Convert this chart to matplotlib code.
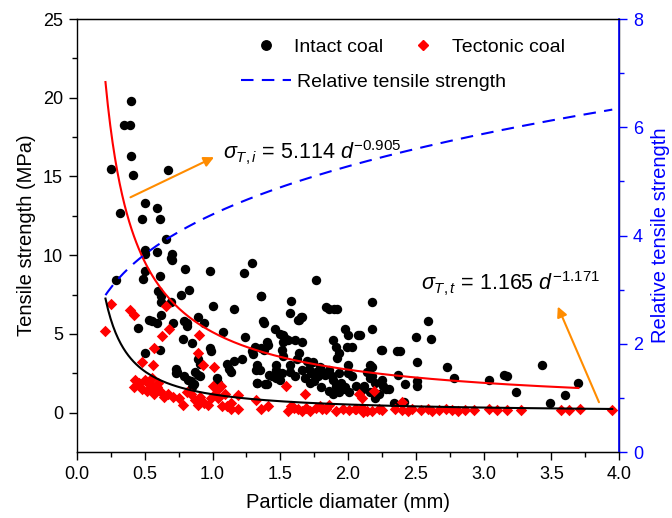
import numpy as np
import matplotlib
matplotlib.use("Agg")
import matplotlib.pyplot as plt
from matplotlib.lines import Line2D

plt.rcParams['font.family'] = ['Liberation Sans', 'DejaVu Sans']
plt.rcParams['mathtext.fontset'] = 'custom'
plt.rcParams['mathtext.rm'] = 'Liberation Sans'
plt.rcParams['mathtext.it'] = 'Liberation Sans:italic'

# Intact coal (particle diameter mm, tensile strength MPa)
intact_d = [0.40, 0.35, 0.39, 0.40, 0.25, 0.41, 0.67, 0.50, 0.59, 0.32, 0.48, 0.61, 0.66, 0.50, 0.70,
            0.29, 0.50, 0.59, 0.50, 0.49, 0.61, 0.60, 0.62, 0.62, 0.69, 0.70, 0.80, 0.83, 0.77, 0.69,
            0.71, 0.62, 0.98, 1.00, 1.23, 1.29, 1.16, 1.76, 0.45, 0.53, 0.55, 0.59, 0.61, 0.50, 0.79,
            0.81, 0.81, 0.78, 0.89, 0.94, 0.85, 0.98, 0.99, 1.08, 1.24, 1.36, 1.38, 0.73, 0.74, 0.73,
            0.79, 0.82, 0.84, 0.87, 0.89, 0.91, 0.91, 0.89, 0.86, 0.85, 1.03, 1.04, 1.11, 1.12, 1.14,
            1.16, 1.22, 1.30, 1.31, 1.33, 1.35, 1.33, 1.40, 1.41, 1.38, 1.44, 1.46, 1.50, 1.52, 1.54,
            1.52, 1.51, 1.52, 1.47, 1.47, 1.51, 1.50, 1.58, 1.57, 1.64, 1.66, 1.61, 1.66, 1.64, 1.62,
            1.57, 1.57, 1.61, 1.66, 1.71, 1.73, 1.76, 1.78, 1.81, 1.83, 1.86, 1.88, 1.89, 1.93, 1.95,
            1.91, 1.86, 1.89, 1.93, 1.98, 1.86, 1.90, 1.92, 1.89, 1.91, 1.92, 1.93, 1.98, 1.99, 2.03,
            2.00, 2.09, 2.18, 2.18, 2.24, 2.00, 2.00, 2.03, 2.14, 2.16, 2.18, 2.12, 2.20, 2.25, 2.38,
            2.50, 2.61, 2.59, 2.51, 2.73, 2.78, 3.04, 3.15, 3.17, 3.24, 3.43, 3.49, 3.60, 3.70, 2.37,
            2.42, 2.51, 2.51, 2.34, 2.41, 2.18, 2.16, 2.25, 2.26, 2.28, 2.30, 2.23, 2.20, 2.16, 2.11,
            2.06, 2.01, 1.98, 1.33, 1.39, 1.42, 1.47, 1.32, 1.29, 1.36, 1.40, 1.56, 1.65, 1.63, 1.36,
            1.37, 1.68, 1.72, 1.75, 1.79, 1.70, 1.74, 1.80, 2.07, 2.36, 1.84]
intact_s = [19.8, 18.3, 18.3, 16.3, 15.5, 15.1, 15.4, 13.3, 13.0, 12.7, 12.3, 12.3, 11.0, 10.3, 10.1,
            8.4, 10.1, 10.2, 9.0, 8.5, 8.7, 7.7, 7.4, 7.0, 9.8, 9.7, 9.1, 7.8, 7.5, 7.0,
            5.7, 6.2, 9.0, 6.8, 8.9, 9.5, 6.6, 8.4, 5.4, 5.9, 5.8, 5.7, 4.0, 3.8, 5.8,
            5.7, 5.5, 4.7, 6.1, 5.7, 4.4, 4.1, 3.9, 5.1, 4.8, 7.4, 5.7, 2.8, 2.6, 2.5,
            2.3, 2.1, 2.0, 2.6, 2.4, 2.3, 3.1, 3.4, 1.8, 1.6, 2.2, 1.9, 3.1, 2.8, 2.6,
            3.3, 3.4, 3.7, 4.2, 3.0, 2.7, 1.9, 1.8, 4.3, 4.0, 2.3, 5.3, 5.0, 4.9, 4.7,
            4.5, 4.0, 3.6, 3.0, 2.7, 2.5, 2.1, 7.1, 6.3, 5.9, 6.1, 4.6, 4.5, 3.8, 3.4,
            3.0, 2.6, 2.3, 2.7, 2.8, 2.5, 2.6, 2.3, 2.6, 2.4, 2.7, 2.3, 2.1, 2.5, 1.9,
            1.7, 1.4, 1.2, 1.3, 1.5, 6.6, 6.6, 6.6, 4.6, 4.2, 3.5, 3.8, 5.3, 4.2, 4.2,
            4.9, 4.9, 7.0, 5.3, 4.0, 3.0, 2.5, 2.3, 2.6, 3.0, 2.3, 1.7, 1.9, 4.0, 3.9,
            4.8, 4.7, 5.8, 3.2, 2.9, 2.2, 2.1, 2.4, 2.3, 1.3, 3.0, 0.6, 1.1, 1.9, 2.4,
            1.8, 2.0, 1.7, 0.6, 0.7, 2.9, 2.2, 2.1, 1.7, 1.5, 1.5, 1.2, 0.9, 1.3, 1.5,
            1.7, 1.3, 1.6, 1.9, 1.8, 2.4, 2.2, 2.7, 3.9, 4.1, 4.5, 4.6, 6.1, 5.9, 7.4,
            5.8, 2.2, 1.9, 2.0, 2.9, 3.3, 3.2, 1.6, 4.9, 3.9, 6.7]

# Tectonic coal
tectonic_d = [0.21, 0.25, 0.39, 0.42, 0.66, 0.68, 0.63, 0.57, 0.90, 0.89, 0.93, 0.48, 0.56, 1.01,
              0.43, 0.46, 0.50, 0.53, 0.55, 0.59, 0.61, 0.48, 0.52, 0.57, 0.42, 0.45, 0.55, 0.60,
              0.67, 0.71, 0.78, 0.84, 0.81, 0.89, 0.91, 0.94, 0.97, 1.00, 1.04, 1.06, 1.09, 1.04,
              1.07, 1.11, 1.14, 1.19, 1.19, 1.14, 0.64, 0.75, 0.87, 0.99, 1.02,
              1.32, 1.36, 1.41, 1.54, 1.56, 1.60, 1.63, 1.68, 1.72, 1.76, 1.81, 1.86, 1.91,
              1.96, 2.05, 2.10, 2.14, 2.19, 2.23, 2.08, 2.10, 1.58, 1.66, 1.69, 1.79, 1.84,
              2.01, 2.06, 2.11, 2.18, 2.25, 2.35, 2.40, 2.44, 2.47, 2.54, 2.59, 2.62, 2.67,
              2.72, 2.77, 2.81, 2.86, 2.93, 3.04, 3.10, 3.17, 3.28, 3.57, 3.63, 3.71, 3.95, 2.40]
tectonic_s = [5.2, 6.9, 6.5, 6.2, 6.75, 5.3, 4.85, 4.1, 4.9, 3.8, 3.0, 3.2, 3.0, 2.9,
              2.1, 1.9, 2.1, 1.8, 1.7, 1.6, 1.4, 1.5, 1.4, 1.2, 1.6, 1.8, 2.2, 1.9,
              1.2, 1.0, 0.5, 1.2, 1.3, 0.5, 1.0, 0.6, 0.5, 1.7, 1.5, 1.7, 1.2, 0.9,
              0.4, 0.4, 0.2, 0.2, 1.1, 0.6, 1.0, 0.9, 0.8, 0.9, 1.2,
              0.8, 0.2, 0.4, 1.7, 0.1, 0.3, 0.2, 1.2, 0.1, 0.3, 0.2, 0.5, 0.1,
              0.2, 0.2, 0.3, 0.1, 1.4, 0.2, 1.2, 0.9, 0.4, 0.1, 0.3, 0.4, 0.2,
              0.15, 0.25, 0.05, 0.1, 0.15, 0.2, 0.15, 0.1, 0.2, 0.15, 0.25, 0.1, 0.15,
              0.2, 0.15, 0.1, 0.15, 0.15, 0.2, 0.15, 0.15, 0.15, 0.15, 0.15, 0.2, 0.15, 0.7]

# fitted power laws shown on the chart: sigma = a * d^b
a_i, b_i = 5.114, -0.905
a_t, b_t = 1.165, -1.171

d_i = np.linspace(0.21, 3.7, 200)
d_t = np.linspace(0.21, 3.95, 200)
fit_i = a_i * d_i ** b_i
fit_t = a_t * d_t ** b_t
ratio = (a_i * d_t ** b_i) / (a_t * d_t ** b_t)

fig = plt.figure(figsize=(6.72, 5.18), dpi=100)
ax = fig.add_axes([0.1146, 0.1274, 0.8066, 0.8359])
ax2 = ax.twinx()

ax.scatter(intact_d, intact_s, s=46, c='black', marker='o', linewidths=0, zorder=2)
ax.scatter(tectonic_d, tectonic_s, s=34, c='#ff0000', marker='D', linewidths=0, zorder=2)
ax.plot(d_i, fit_i, color='#ff0000', lw=1.5, zorder=3)
ax.plot(d_t, fit_t, color='black', lw=1.5, zorder=3)
ax2.plot(d_t, ratio, color='#0000ff', lw=1.5, dashes=(6, 4))

ax.set_xlim(0, 4)
ax.set_ylim(-2.5, 25)
ax2.set_ylim(0, 8)
ax.set_xticks(np.arange(0, 4.01, 0.5))
ax.set_xticks(np.arange(0.25, 4, 0.5), minor=True)
ax.set_yticks(np.arange(0, 25.1, 5))
ax.set_yticks(np.arange(2.5, 25, 5), minor=True)
ax2.set_yticks([0, 2, 4, 6, 8])
ax2.set_yticks([1, 3, 5, 7], minor=True)

for a in (ax, ax2):
    a.tick_params(which='major', length=6, width=1, labelsize=13, pad=4)
    a.tick_params(which='minor', length=3.5, width=1)
ax.xaxis.set_major_formatter(matplotlib.ticker.FormatStrFormatter('%.1f'))
ax2.tick_params(axis='y', which='both', colors='#0000ff')
ax2.spines['right'].set_color('#0000ff')
ax2.spines['left'].set_visible(False)
for sp in ax.spines.values():
    sp.set_linewidth(1)
ax2.spines['right'].set_linewidth(1.2)

ax.set_xlabel('Particle diamater (mm)', fontsize=14.5, labelpad=7)
ax.set_ylabel('Tensile strength (MPa)', fontsize=14.5, labelpad=5)
ax2.set_ylabel('Relative tensile strength', fontsize=14.5, color='#0000ff', labelpad=6)

# legends
h1 = Line2D([], [], ls='none', marker='o', color='black', markersize=6.8)
h2 = Line2D([], [], ls='none', marker='D', color='#ff0000', markersize=5.2)
h3 = Line2D([], [], color='#0000ff', lw=1.5, dashes=(6, 4))
leg1 = ax2.legend([h1, h2], ['Intact coal', 'Tectonic coal'], ncol=2, frameon=False,
                  fontsize=14, loc='upper left', bbox_to_anchor=(0.29, 0.995),
                  handlelength=1.5, handletextpad=0.7, columnspacing=1.3)
ax2.add_artist(leg1)
ax2.legend([h3], ['Relative tensile strength'], frameon=False, fontsize=14,
           loc='upper left', bbox_to_anchor=(0.27, 0.915), handlelength=2.6, handletextpad=0.3)

# equations with arrows
ax.annotate('', xy=(1.03, 16.3), xytext=(0.376, 13.6),
            arrowprops=dict(arrowstyle='-|>', color='#ff8c00', lw=1.5, mutation_scale=15))
ax.text(1.08, 16.5, r'$\sigma_{T,i}$ = 5.114 $d^{-0.905}$', fontsize=15.5, va='center')
ax.annotate('', xy=(3.54, 6.9), xytext=(3.86, 0.5),
            arrowprops=dict(arrowstyle='-|>', color='#ff8c00', lw=1.5, mutation_scale=15))
ax.text(2.54, 8.2, r'$\sigma_{T,t}$ = 1.165 $d^{-1.171}$', fontsize=15.5, va='center')

fig.savefig('out.png', dpi=100)
